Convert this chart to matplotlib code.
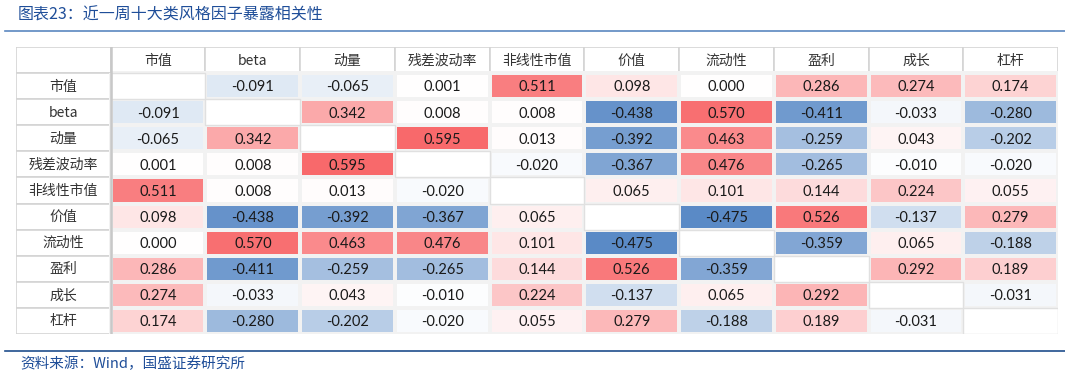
import numpy as np
import matplotlib
matplotlib.use('Agg')
import matplotlib.pyplot as plt
from matplotlib.colors import LinearSegmentedColormap, TwoSlopeNorm

plt.rcParams['font.family'] = ['Noto Sans CJK SC', 'DejaVu Sans']

# factor names (rows and columns)
factors = ['市值', 'beta', '动量', '残差波动率', '非线性市值', '价值', '流动性', '盈利', '成长', '杠杆']

# correlation matrix, diagonal left blank
corr = np.array([
    [np.nan, -0.091, -0.065, 0.001, 0.511, 0.098, 0.000, 0.286, 0.274, 0.174],
    [-0.091, np.nan, 0.342, 0.008, 0.008, -0.438, 0.570, -0.411, -0.033, -0.280],
    [-0.065, 0.342, np.nan, 0.595, 0.013, -0.392, 0.463, -0.259, 0.043, -0.202],
    [0.001, 0.008, 0.595, np.nan, -0.020, -0.367, 0.476, -0.265, -0.010, -0.020],
    [0.511, 0.008, 0.013, -0.020, np.nan, 0.065, 0.101, 0.144, 0.224, 0.055],
    [0.098, -0.438, -0.392, -0.367, 0.065, np.nan, -0.475, 0.526, -0.137, 0.279],
    [0.000, 0.570, 0.463, 0.476, 0.101, -0.475, np.nan, -0.359, 0.065, -0.188],
    [0.286, -0.411, -0.259, -0.265, 0.144, 0.526, -0.359, np.nan, 0.292, 0.189],
    [0.274, -0.033, 0.043, -0.010, 0.224, -0.137, 0.065, 0.292, np.nan, -0.031],
    [0.174, -0.280, -0.202, -0.020, 0.055, 0.279, -0.188, 0.189, -0.031, np.nan],
])

title = '图表23：近一周十大类风格因子暴露相关性'
source = '资料来源：Wind，国盛证券研究所'

W, H = 1065, 376
fig = plt.figure(figsize=(W / 100, H / 100), dpi=100)

# excel-like 3-colour scale
cmap = LinearSegmentedColormap.from_list('xl', ['#5A8AC6', '#FFFFFF', '#F8696B'])
norm = TwoSlopeNorm(vmin=np.nanmin(corr), vcenter=0.0, vmax=np.nanmax(corr))

n = len(factors)
ax = fig.add_axes([16 / W, 1 - 334 / H, (1058 - 16) / W, (334 - 47) / H])
ax.set_xlim(0, n + 1)
ax.set_ylim(n + 1, 0)
ax.axis('off')

# header row / first column: white cells with gray borders
for i in range(n + 1):
    ax.add_patch(plt.Rectangle((i, 0), 1, 1, facecolor='white', edgecolor='#d4d4d4', lw=1.2))
    ax.add_patch(plt.Rectangle((0, i), 1, 1, facecolor='white', edgecolor='#d4d4d4', lw=1.2))

data = np.ma.masked_invalid(corr)
xs = np.arange(1, n + 2)
ax.pcolormesh(xs, xs, data, cmap=cmap, norm=norm, edgecolors='#f2f2f2', linewidth=1.5)

# diagonal blanks
for i in range(n):
    ax.add_patch(plt.Rectangle((i + 1, i + 1), 1, 1, facecolor='white', edgecolor='#e0e0e0', lw=1.0))

# thicker gray separator after the first column / header
ax.plot([1, 1], [0, n + 1], color='#c8c8c8', lw=1.8)

for i, f in enumerate(factors):
    ax.text(i + 1.5, 0.52, f, ha='center', va='center', fontsize=10, color='#333333')
    ax.text(0.5, i + 1.52, f, ha='center', va='center', fontsize=10, color='#333333')

for r in range(n):
    for c in range(n):
        v = corr[r, c]
        if np.isnan(v):
            continue
        ax.text(c + 1.5, r + 1.55, f'{v:.3f}', ha='center', va='center',
                fontsize=10.5, color='#1a1a1a', family=['Lato', 'DejaVu Sans'])

# title and source with rules
fig.text(18 / W, 1 - 15 / H, title, ha='left', va='center', fontsize=11.5,
         color='#1F4E99', style='italic')
fig.add_artist(plt.Line2D([5 / W, 1.0], [1 - 31 / H] * 2, color='#5b87c0', lw=1.2))
fig.add_artist(plt.Line2D([5 / W, 1.0], [1 - 351 / H] * 2, color='#1F4E8C', lw=1.2))
fig.text(20 / W, 1 - 364 / H, source, ha='left', va='center', fontsize=10.5,
         color='#1F4E99', style='italic')

fig.savefig('out.png', dpi=100)
